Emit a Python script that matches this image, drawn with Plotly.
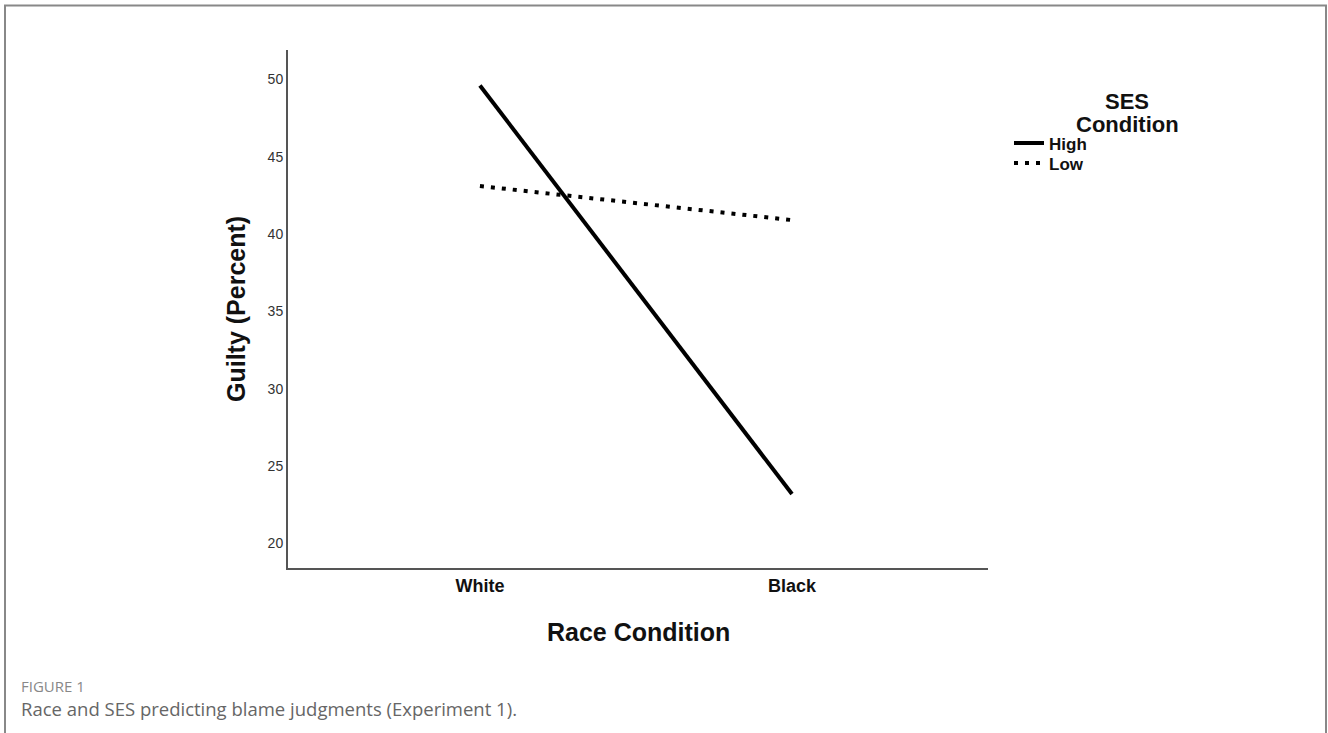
import plotly.graph_objects as go

categories = ["White", "Black"]
high_values = [49.6, 23.2]
low_values = [43.1, 40.9]
y_ticks = [20, 25, 30, 35, 40, 45, 50]
series_names = ["High", "Low"]

W, H = 1328, 733
L, R, T, B = 288, 988, 50, 568  # plot area px

def px(x):
    return (x - L) / (R - L)

def py(y):
    return (B - y) / (B - T)

xpos = list(range(len(categories)))
dashes = ["solid", "4px,7px"]

fig = go.Figure()
for name, vals, dash in zip(series_names, [high_values, low_values], dashes):
    fig.add_trace(go.Scatter(x=xpos, y=vals, mode="lines", name=name,
                             line=dict(color="black", width=4, dash=dash)))

annotations = [
    dict(text="<b>SES</b>", xref="paper", yref="paper", x=px(1127), y=py(101), height=20,
         showarrow=False, font=dict(size=22, color="#111"), xanchor="center", yanchor="middle"),
    dict(text="<b>Condition</b>", xref="paper", yref="paper", x=px(1127), y=py(124), height=20,
         showarrow=False, font=dict(size=22, color="#111"), xanchor="center", yanchor="middle"),
    dict(text="<b>Guilty (Percent)</b>", xref="paper", yref="paper", x=px(236), y=py(309),
         textangle=-90, showarrow=False, font=dict(size=25, color="#111"),
         xanchor="center", yanchor="middle"),
    dict(text="<b>Race Condition</b>", xref="paper", yref="paper", x=px(638), y=py(632),
         showarrow=False, font=dict(size=25, color="#111"), xanchor="center", yanchor="middle"),
    dict(text="FIGURE 1", xref="paper", yref="paper", x=px(19), y=py(686),
         showarrow=False, font=dict(size=15, color="#888", family="Open Sans"),
         xanchor="left", yanchor="middle"),
    dict(text="Race and SES predicting blame judgments (Experiment 1).", xref="paper", yref="paper",
         x=px(19), y=py(708), showarrow=False,
         font=dict(size=18.5, color="#666", family="Open Sans"),
         xanchor="left", yanchor="middle"),
]

shapes = [
    dict(type="path", xref="paper", yref="paper",
         path="M %f,%f L %f,%f L %f,%f L %f,%f" % (px(5), py(740), px(5), py(5.5), px(1326), py(5.5), px(1326), py(740)),
         line=dict(color="#888", width=2)),
]

# legend entries (drawn manually to reproduce the compact SPSS legend)
for i, (name, dash) in enumerate(zip(series_names, dashes)):
    yy = 143 + 20 * i
    shapes.append(dict(type="line", xref="paper", yref="paper",
                       x0=px(1014), x1=px(1044), y0=py(yy), y1=py(yy),
                       line=dict(color="black", width=4, dash=dash)))
    annotations.append(dict(text="<b>%s</b>" % name, xref="paper", yref="paper",
                            x=px(1047), y=py(yy + 1), height=18, showarrow=False,
                            font=dict(size=17, color="#111"), xanchor="left", yanchor="middle"))

fig.update_layout(
    width=W, height=H,
    margin=dict(l=L, r=W - R, t=T, b=H - B),
    paper_bgcolor="white", plot_bgcolor="white",
    font=dict(family="Liberation Sans, Arial", color="#222"),
    showlegend=False,
    xaxis=dict(range=[-0.615, 1.628], tickvals=xpos, ticktext=["<b>%s</b>" % c for c in categories],
               showgrid=False, zeroline=False, showline=True, linecolor="#555", linewidth=2,
               ticks="", tickfont=dict(size=18, color="#111"), fixedrange=True),
    yaxis=dict(range=[18.42, 51.89], tickvals=y_ticks, showgrid=False, zeroline=False,
               showline=True, linecolor="#555", linewidth=2, ticks="",
               tickfont=dict(size=14, color="#333"), fixedrange=True),
    annotations=annotations,
    shapes=shapes,
)

fig.write_html("out.html", config={"displayModeBar": False},
               post_script="document.body.style.margin='0';document.body.style.overflow='hidden';")
